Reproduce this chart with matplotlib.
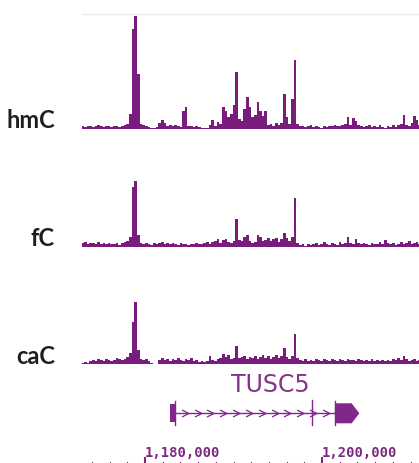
# Recreate genome browser tracks (hmC / fC / caC) around TUSC5
import numpy as np
import matplotlib.pyplot as plt
from matplotlib.path import Path

# genomic bins, 300 bp each
bin_start = 1172800
bin_size = 300

hmC = [3, 2, 3, 3, 2, 3, 4, 3, 2, 3, 3, 2, 3, 3, 2, 3, 4, 5,
       15, 100, 113, 55, 5, 4, 3, 2, 1, 1, 2, 6, 9, 6, 3, 4, 3, 4, 3, 2,
       18, 22, 3, 3, 2, 3, 2, 1, 1, 1, 4, 9, 3, 7, 5, 22, 18, 12, 15, 24,
       57, 10, 8, 20, 32, 22, 12, 14, 27, 18, 13, 18, 4, 5, 3, 6, 4, 6,
       35, 12, 5, 30, 69, 5, 3, 3, 2, 3, 4, 2, 3, 2, 1, 3, 2, 3, 3, 4,
       3, 3, 4, 5, 12, 4, 11, 8, 4, 3, 2, 3, 4, 2, 3, 2, 4, 2, 1, 3,
       2, 4, 2, 4, 5, 14, 4, 3, 6, 13, 9, 4]

fC = [4, 5, 3, 4, 4, 3, 5, 3, 4, 3, 4, 3, 3, 4, 2, 4, 5, 6,
      10, 60, 66, 12, 4, 3, 4, 3, 2, 4, 3, 4, 5, 3, 4, 3, 4, 3, 2, 4,
      3, 3, 2, 3, 3, 4, 3, 3, 4, 5, 3, 5, 6, 8, 4, 7, 8, 5, 4, 6,
      28, 7, 6, 10, 12, 6, 4, 5, 12, 10, 6, 7, 9, 6, 8, 9, 5, 8,
      14, 9, 6, 10, 49, 4, 2, 3, 1, 3, 2, 3, 4, 2, 3, 5, 3, 2, 4, 3,
      2, 5, 3, 4, 10, 4, 3, 8, 4, 3, 4, 3, 2, 4, 3, 3, 5, 3, 7, 4,
      3, 4, 2, 3, 5, 3, 4, 6, 3, 4, 5, 3]

caC = [1, 2, 1, 3, 4, 3, 5, 4, 3, 5, 4, 3, 4, 6, 5, 4, 5, 7,
       11, 42, 62, 14, 5, 4, 5, 3, 1, 0.5, 0.5, 4, 6, 4, 5, 3, 5, 4, 6, 4,
       3, 5, 4, 6, 3, 4, 2, 3, 2, 3, 8, 4, 3, 5, 6, 10, 7, 9, 5, 6,
       18, 6, 7, 8, 5, 7, 6, 8, 5, 7, 9, 6, 8, 5, 7, 9, 6, 8,
       16, 7, 5, 8, 30, 6, 4, 3, 5, 3, 4, 3, 5, 4, 3, 5, 4, 3, 5, 4,
       3, 5, 4, 3, 5, 4, 4, 3, 5, 4, 3, 4, 3, 5, 3, 4, 3, 4, 3, 4,
       3, 5, 4, 6, 4, 8, 5, 3, 4, 5, 3, 4]

track_names = ['hmC', 'fC', 'caC']
track_data = [hmC, fC, caC]

# gene model (bp)
gene_name = 'TUSC5'
exon_starts = [1182800, 1198830, 1201460]
exon_ends = [1183400, 1198830, 1203350]
gene_tip = 1204220
chevron_pos = [1184500 + 1450 * k for k in range(12)]

# ruler
ruler_major = [1180000, 1200000]
ruler_labels = ['1,180,000', '1,200,000']

W, H = 419, 463
xlo, xhi = 1172881, 1210960
purple = '#7a1b7e'
gene_col = '#80278a'

fig = plt.figure(figsize=(W / 100, H / 100), dpi=100)

def px_axes(left, top, right, bottom):
    # axes placed using pixel coordinates of the picture
    return fig.add_axes([left / W, 1 - bottom / H, (right - left) / W, (bottom - top) / H])

edges = bin_start + bin_size * np.arange(len(hmC) + 1)
baselines = [128.5, 246.7, 364.0]

for name, vals, base in zip(track_names, track_data, baselines):
    ax = px_axes(82, base - 115, W, base)
    ax.stairs(vals, edges, fill=True, color=purple, linewidth=0)
    ax.set_xlim(xlo, xhi)
    ax.set_ylim(0, 115)
    ax.axis('off')
    fig.text(55 / W, 1 - (base - 0.5) / H, name, ha='right', va='baseline',
             fontsize=17, fontweight='bold', family='Lato', color='#1e1e1e')

# faint line on top of the first track
fig.add_artist(plt.Line2D([82 / W, 1], [1 - 14 / H, 1 - 14 / H], color='#ececec', lw=1))

# gene + ruler axes, y in pixels
gx = px_axes(82, 370, W, H)
gx.set_xlim(xlo, xhi)
gx.set_ylim(H, 370)
gx.axis('off')

yc = 413.3
gx.plot([exon_ends[0], exon_starts[2]], [yc, yc], color=gene_col, lw=1)
# first exon box
gx.fill_between([exon_starts[0], exon_ends[0]], yc - 9, yc + 9, color=gene_col, lw=0)
gx.plot([exon_ends[0], exon_ends[0]], [yc - 12, yc + 12], color=gene_col, lw=1)
# small exon mark
gx.plot([exon_starts[1], exon_starts[1]], [yc - 13, yc + 12], color=gene_col, lw=1)
# last exon with arrow tip
gx.plot([exon_starts[2], exon_starts[2]], [yc - 12, yc + 12], color=gene_col, lw=1)
gx.fill([exon_starts[2], exon_ends[2], gene_tip, exon_ends[2], exon_starts[2]],
        [yc - 10, yc - 10, yc, yc + 10, yc + 10], color=gene_col, lw=0)

chev = Path([(-1, 1), (1, 0), (-1, -1)], [Path.MOVETO, Path.LINETO, Path.LINETO])
gx.plot(chevron_pos, [yc] * len(chevron_pos), ls='none', marker=chev, ms=5,
        mfc='none', mec=gene_col, mew=0.9)

gx.text((exon_starts[0] + gene_tip) / 2 + 700, 391.7, gene_name, ha='center', va='baseline',
        fontsize=17, color='#86338a', family='DejaVu Sans')

# ruler ticks and labels
minor = np.arange(1172000, 1211000, 2000)
for m in minor:
    gx.plot([m, m], [461.5, H], color=gene_col, lw=0.8)
for pos, lab in zip(ruler_major, ruler_labels):
    gx.plot([pos, pos], [458, H], color=gene_col, lw=1.5)
    gx.text(pos, 457, lab, ha='left', va='baseline', fontsize=10, fontweight='bold',
            family='DejaVu Sans Mono', color='#7c2a80')

plt.savefig('out.png', dpi=100)
